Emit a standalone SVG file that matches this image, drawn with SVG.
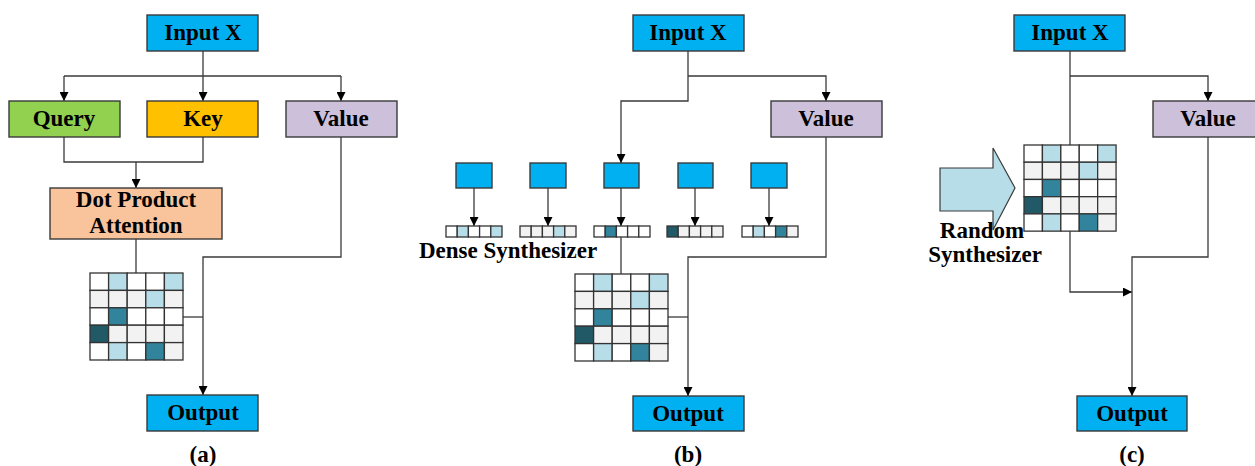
<svg xmlns="http://www.w3.org/2000/svg" width="1255" height="466" viewBox="0 0 1255 466">
  <style>
    .box { stroke: #3a3a3a; stroke-width: 1.4; }
    .blue { fill: #00b0f0; }
    .lbl { font-family: "Liberation Serif", "Times New Roman", serif; font-weight: bold; font-size: 23px; fill: #000; text-anchor: middle; }
    .cap { font-family: "Liberation Serif", "Times New Roman", serif; font-weight: bold; font-size: 23px; fill: #000; text-anchor: middle; }
    .wire { fill: none; stroke: #3a3a3a; stroke-width: 1.3; }
    .cell { stroke: #333; stroke-width: 1.3; }
    .w { fill: #ffffff; }
    .g { fill: #f2f2f2; }
    .lb { fill: #b7dde8; }
    .tl { fill: #31849b; }
    .dk { fill: #215967; }
  </style>
  <defs>
    <marker id="arrow" viewBox="0 0 10 10" refX="10" refY="5" markerWidth="9" markerHeight="9" markerUnits="userSpaceOnUse" orient="auto">
      <path d="M0,0 L10,5 L0,10 Z" fill="#000"/>
    </marker>
    <!-- 5x5 attention map -->
    <g id="attnMatrix">
      <rect class="cell w" x="0" y="0" width="18.6" height="17.4"/>
      <rect class="cell lb" x="18.6" y="0" width="18.6" height="17.4"/>
      <rect class="cell w" x="37.2" y="0" width="18.6" height="17.4"/>
      <rect class="cell w" x="55.8" y="0" width="18.6" height="17.4"/>
      <rect class="cell lb" x="74.4" y="0" width="18.6" height="17.4"/>
      <rect class="cell g" x="0" y="17.4" width="18.6" height="17.4"/>
      <rect class="cell g" x="18.6" y="17.4" width="18.6" height="17.4"/>
      <rect class="cell g" x="37.2" y="17.4" width="18.6" height="17.4"/>
      <rect class="cell lb" x="55.8" y="17.4" width="18.6" height="17.4"/>
      <rect class="cell g" x="74.4" y="17.4" width="18.6" height="17.4"/>
      <rect class="cell w" x="0" y="34.8" width="18.6" height="17.4"/>
      <rect class="cell tl" x="18.6" y="34.8" width="18.6" height="17.4"/>
      <rect class="cell w" x="37.2" y="34.8" width="18.6" height="17.4"/>
      <rect class="cell w" x="55.8" y="34.8" width="18.6" height="17.4"/>
      <rect class="cell w" x="74.4" y="34.8" width="18.6" height="17.4"/>
      <rect class="cell dk" x="0" y="52.2" width="18.6" height="17.4"/>
      <rect class="cell g" x="18.6" y="52.2" width="18.6" height="17.4"/>
      <rect class="cell g" x="37.2" y="52.2" width="18.6" height="17.4"/>
      <rect class="cell g" x="55.8" y="52.2" width="18.6" height="17.4"/>
      <rect class="cell g" x="74.4" y="52.2" width="18.6" height="17.4"/>
      <rect class="cell w" x="0" y="69.6" width="18.6" height="17.4"/>
      <rect class="cell lb" x="18.6" y="69.6" width="18.6" height="17.4"/>
      <rect class="cell w" x="37.2" y="69.6" width="18.6" height="17.4"/>
      <rect class="cell tl" x="55.8" y="69.6" width="18.6" height="17.4"/>
      <rect class="cell g" x="74.4" y="69.6" width="18.6" height="17.4"/>
    </g>
  </defs>

  <rect width="1255" height="466" fill="#ffffff"/>

  <!-- connectors -->
  <g id="connectors">
    <!-- (a) -->
    <path class="wire" d="M203,51 V76"/>
    <path class="wire" d="M64,76 H341"/>
    <path class="wire" d="M64,76 V101" marker-end="url(#arrow)"/>
    <path class="wire" d="M203,76 V101" marker-end="url(#arrow)"/>
    <path class="wire" d="M341,76 V101" marker-end="url(#arrow)"/>
    <path class="wire" d="M64,137 V162 H203 V137"/>
    <path class="wire" d="M136,162 V188" marker-end="url(#arrow)"/>
    <path class="wire" d="M136,239 V273"/>
    <path class="wire" d="M341,137 V257 H203 V395" marker-end="url(#arrow)"/>
    <path class="wire" d="M183,317 H203"/>
    <!-- (b) -->
    <path class="wire" d="M688,51 V101 H621 V163" marker-end="url(#arrow)"/>
    <path class="wire" d="M688,76 H826 V101" marker-end="url(#arrow)"/>
    <path class="wire" d="M474,188 V226" marker-end="url(#arrow)"/>
    <path class="wire" d="M548,188 V226" marker-end="url(#arrow)"/>
    <path class="wire" d="M621,188 V226" marker-end="url(#arrow)"/>
    <path class="wire" d="M695,188 V226" marker-end="url(#arrow)"/>
    <path class="wire" d="M769,188 V226" marker-end="url(#arrow)"/>
    <path class="wire" d="M621,237 V274"/>
    <path class="wire" d="M826,137 V257 H688 V396" marker-end="url(#arrow)"/>
    <path class="wire" d="M668,317 H688"/>
    <!-- (c) -->
    <path class="wire" d="M1070,51 V145"/>
    <path class="wire" d="M1070,76 H1208 V101" marker-end="url(#arrow)"/>
    <path class="wire" d="M1070,231 V292 H1132" marker-end="url(#arrow)"/>
    <path class="wire" d="M1208,137 V257 H1132 V396" marker-end="url(#arrow)"/>
  </g>

  <!-- panel (a) -->
  <g id="a-input">
    <rect class="box blue" x="147" y="15" width="111" height="36"/>
    <text class="lbl" x="203" y="40">Input X</text>
  </g>
  <g id="a-query">
    <rect class="box" fill="#92d050" x="9" y="101" width="111" height="36"/>
    <text class="lbl" x="64" y="126">Query</text>
  </g>
  <g id="a-key">
    <rect class="box" fill="#ffc000" x="147" y="101" width="111" height="36"/>
    <text class="lbl" x="203" y="126">Key</text>
  </g>
  <g id="a-value">
    <rect class="box" fill="#ccc0da" x="286" y="101" width="111" height="36"/>
    <text class="lbl" x="341" y="126">Value</text>
  </g>
  <g id="a-attention">
    <rect class="box" fill="#f9c49b" x="50" y="188" width="172" height="51"/>
    <text class="lbl" x="136" y="207">Dot Product</text>
    <text class="lbl" x="136" y="233">Attention</text>
  </g>
  <g id="a-matrix">
    <use href="#attnMatrix" x="90" y="273"/>
  </g>
  <g id="a-output">
    <rect class="box blue" x="147" y="395" width="111" height="36"/>
    <text class="lbl" x="203" y="420">Output</text>
  </g>
  <text class="cap" x="203" y="462">(a)</text>

  <!-- panel (b) -->
  <g id="b-input">
    <rect class="box blue" x="633" y="15" width="111" height="36"/>
    <text class="lbl" x="688" y="40">Input X</text>
  </g>
  <g id="b-value">
    <rect class="box" fill="#ccc0da" x="771" y="101" width="111" height="36"/>
    <text class="lbl" x="826" y="126">Value</text>
  </g>
  <g id="b-dense">
    <rect class="box blue" x="456" y="163" width="36" height="25"/>
    <rect class="box blue" x="530" y="163" width="36" height="25"/>
    <rect class="box blue" x="604" y="163" width="35" height="25"/>
    <rect class="box blue" x="678" y="163" width="35" height="25"/>
    <rect class="box blue" x="751" y="163" width="36" height="25"/>
  </g>
  <g id="b-vectors">
    <g transform="translate(446,226)">
      <rect class="cell w" x="0" y="0" width="11.2" height="11"/>
      <rect class="cell lb" x="11.2" y="0" width="11.2" height="11"/>
      <rect class="cell w" x="22.4" y="0" width="11.2" height="11"/>
      <rect class="cell w" x="33.6" y="0" width="11.2" height="11"/>
      <rect class="cell lb" x="44.8" y="0" width="11.2" height="11"/>
    </g>
    <g transform="translate(520,226)">
      <rect class="cell g" x="0" y="0" width="11.2" height="11"/>
      <rect class="cell g" x="11.2" y="0" width="11.2" height="11"/>
      <rect class="cell g" x="22.4" y="0" width="11.2" height="11"/>
      <rect class="cell lb" x="33.6" y="0" width="11.2" height="11"/>
      <rect class="cell g" x="44.8" y="0" width="11.2" height="11"/>
    </g>
    <g transform="translate(594,226)">
      <rect class="cell w" x="0" y="0" width="11.2" height="11"/>
      <rect class="cell tl" x="11.2" y="0" width="11.2" height="11"/>
      <rect class="cell w" x="22.4" y="0" width="11.2" height="11"/>
      <rect class="cell w" x="33.6" y="0" width="11.2" height="11"/>
      <rect class="cell w" x="44.8" y="0" width="11.2" height="11"/>
    </g>
    <g transform="translate(667,226)">
      <rect class="cell dk" x="0" y="0" width="11.2" height="11"/>
      <rect class="cell g" x="11.2" y="0" width="11.2" height="11"/>
      <rect class="cell g" x="22.4" y="0" width="11.2" height="11"/>
      <rect class="cell g" x="33.6" y="0" width="11.2" height="11"/>
      <rect class="cell g" x="44.8" y="0" width="11.2" height="11"/>
    </g>
    <g transform="translate(742,226)">
      <rect class="cell w" x="0" y="0" width="11.2" height="11"/>
      <rect class="cell lb" x="11.2" y="0" width="11.2" height="11"/>
      <rect class="cell w" x="22.4" y="0" width="11.2" height="11"/>
      <rect class="cell tl" x="33.6" y="0" width="11.2" height="11"/>
      <rect class="cell g" x="44.8" y="0" width="11.2" height="11"/>
    </g>
  </g>
  <text class="lbl" x="508" y="258">Dense Synthesizer</text>
  <g id="b-matrix">
    <use href="#attnMatrix" x="575" y="274"/>
  </g>
  <g id="b-output">
    <rect class="box blue" x="633" y="396" width="111" height="35"/>
    <text class="lbl" x="688" y="421">Output</text>
  </g>
  <text class="cap" x="688" y="462">(b)</text>

  <!-- panel (c) -->
  <g id="c-input">
    <rect class="box blue" x="1014" y="15" width="111" height="36"/>
    <text class="lbl" x="1070" y="40">Input X</text>
  </g>
  <g id="c-value">
    <rect class="box" fill="#ccc0da" x="1153" y="101" width="111" height="36"/>
    <text class="lbl" x="1208" y="126">Value</text>
  </g>
  <g id="c-random">
    <polygon points="940,168 993,168 993,148 1015,188 993,230 993,211 940,211" fill="#b7dde8" stroke="#3a3a3a" stroke-width="1.2"/>
  </g>
  <g id="c-matrix">
    <use href="#attnMatrix" transform="translate(1024,145) scale(0.99,0.99)"/>
  </g>
  <text class="lbl" x="982" y="238">Random</text>
  <text class="lbl" x="985" y="262">Synthesizer</text>
  <g id="c-output">
    <rect class="box blue" x="1077" y="396" width="110" height="35"/>
    <text class="lbl" x="1132" y="421">Output</text>
  </g>
  <text class="cap" x="1132" y="462">(c)</text>
</svg>
